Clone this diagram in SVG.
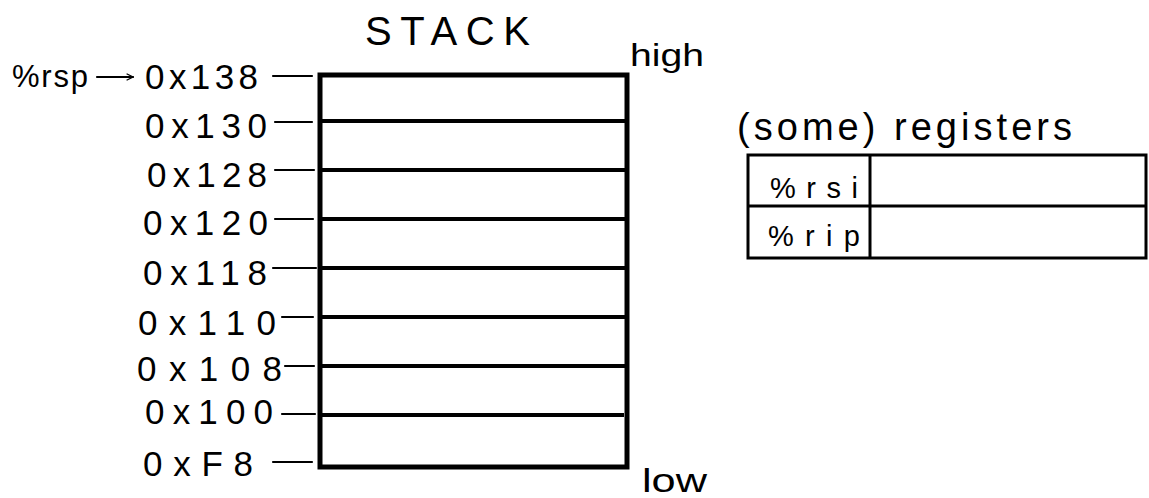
<svg xmlns="http://www.w3.org/2000/svg" width="1149" height="498" viewBox="0 0 1149 498">
<defs>
<style>
text{font-family:"Liberation Sans","DejaVu Sans",sans-serif;fill:#000;}
.addr{font-size:35px;}
.tick{stroke:#000;stroke-width:2.2;fill:none;stroke-linecap:round;}
.row{stroke:#000;stroke-width:4;fill:none;}
.frame{stroke:#000;stroke-width:5;fill:#fff;}
.tbl{stroke:#000;stroke-width:3;fill:#fff;}
</style>
<marker id="ah" viewBox="0 0 10 10" refX="9" refY="5" markerWidth="8" markerHeight="8" markerUnits="userSpaceOnUse" orient="auto">
<path d="M1,1 L9,5 L1,9" fill="none" stroke="#000" stroke-width="1.6"/>
</marker>
</defs>
<rect width="1149" height="498" fill="#fff"/>

<g id="title">
<text x="365" y="45" font-size="40" textLength="165" lengthAdjust="spacing">STACK</text>
</g>

<g id="stack">
<rect class="frame" x="320" y="75" width="307" height="392"/>
<line class="row" x1="320" y1="121" x2="627" y2="121"/>
<line class="row" x1="320" y1="170" x2="627" y2="170"/>
<line class="row" x1="320" y1="219" x2="627" y2="219"/>
<line class="row" x1="320" y1="268" x2="627" y2="268"/>
<line class="row" x1="320" y1="317" x2="627" y2="317"/>
<line class="row" x1="320" y1="366" x2="627" y2="366"/>
<line class="row" x1="320" y1="415" x2="624" y2="415"/>
</g>

<g id="labels-high-low">
<text x="630" y="66" font-size="32" textLength="74" lengthAdjust="spacingAndGlyphs">high</text>
<text x="642" y="492" font-size="34" textLength="65" lengthAdjust="spacingAndGlyphs">low</text>
</g>

<g id="addresses">
<text class="addr" x="145" y="89" textLength="113" lengthAdjust="spacing">0x138</text>
<text class="addr" x="145" y="138" textLength="122" lengthAdjust="spacing">0x130</text>
<text class="addr" x="147" y="187" textLength="120" lengthAdjust="spacing">0x128</text>
<text class="addr" x="143" y="235" textLength="125" lengthAdjust="spacing">0x120</text>
<text class="addr" x="143" y="285" textLength="124" lengthAdjust="spacing">0x118</text>
<text class="addr" x="138" y="335" textLength="138" lengthAdjust="spacing">0x110</text>
<text class="addr" x="137" y="381" textLength="145" lengthAdjust="spacing">0x108</text>
<text class="addr" x="145" y="424" textLength="128" lengthAdjust="spacing">0x100</text>
<text class="addr" x="143" y="476" textLength="110" lengthAdjust="spacing">0xF8</text>
</g>

<g id="rsp">
<text x="12" y="87" font-size="31" textLength="76" lengthAdjust="spacing">%rsp</text>
</g>

<g id="connectors">
<line class="tick" x1="97" y1="77" x2="133" y2="77" marker-end="url(#ah)"/>
<line class="tick" x1="273" y1="76" x2="312" y2="76"/>
<line class="tick" x1="275" y1="122" x2="312" y2="122"/>
<line class="tick" x1="275" y1="170" x2="314" y2="170"/>
<line class="tick" x1="275" y1="219" x2="313" y2="219"/>
<line class="tick" x1="273" y1="268" x2="316" y2="268"/>
<line class="tick" x1="282" y1="317" x2="313" y2="317"/>
<line class="tick" x1="285" y1="366" x2="314" y2="366"/>
<line class="tick" x1="282" y1="414" x2="315" y2="414"/>
<line class="tick" x1="273" y1="462" x2="312" y2="462"/>
</g>

<g id="registers">
<text x="737" y="140" font-size="38" textLength="335" lengthAdjust="spacing">(some) registers</text>
<rect class="tbl" x="748" y="155" width="398" height="103"/>
<line class="tbl" x1="748" y1="206" x2="1146" y2="206"/>
<line class="tbl" x1="870" y1="155" x2="870" y2="258"/>
<text x="770" y="198" font-size="29" textLength="88" lengthAdjust="spacing">%rsi</text>
<text x="768" y="246" font-size="29" textLength="92" lengthAdjust="spacing">%rip</text>
</g>
</svg>
